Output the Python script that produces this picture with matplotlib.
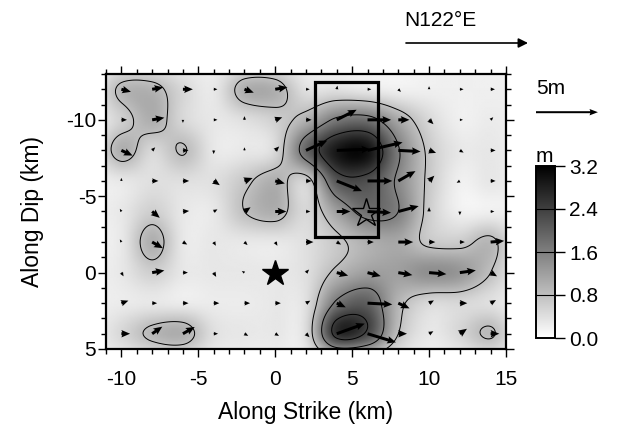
import numpy as np
import matplotlib
matplotlib.use('Agg')
import matplotlib.pyplot as plt
from matplotlib.patches import Rectangle

plt.rcParams['font.family'] = ['Liberation Sans', 'DejaVu Sans']
plt.rcParams['axes.unicode_minus'] = False

# sub-fault grid (km)
strike = [-10, -8, -6, -4, -2, 0, 2, 4, 6, 8, 10, 12, 14]
dip = [-12, -10, -8, -6, -4, -2, 0, 2, 4]

# slip amplitude for the shaded field (m), rows follow dip
slip = np.array([
  [0.9, 0.95, 0.5, 0.3, 1.0, 1.0, 0.4, 0.4, 0.3, 0.2, 0.2, 0.2, 0.2],
  [0.6, 1.0, 0.5, 0.3, 0.4, 0.6, 1.0, 1.7, 1.8, 1.1, 0.5, 0.2, 0.25],
  [1.0, 0.5, 0.83, 0.3, 0.3, 0.5, 1.9, 2.9, 3.0, 1.65, 0.7, 0.3, 0.3],
  [0.3, 0.4, 0.4, 0.4, 0.7, 1.0, 0.6, 2.1, 2.2, 1.5, 0.7, 0.2, 0.3],
  [0.3, 0.6, 0.3, 0.3, 0.8, 1.0, 0.5, 1.2, 1.8, 1.6, 0.65, 0.2, 0.2],
  [0.3, 1.0, 0.3, 0.3, 0.3, 0.3, 0.4, 0.7, 1.0, 1.1, 0.7, 0.65, 0.9],
  [0.3, 0.6, 0.3, 0.3, 0.3, 0.3, 0.4, 0.9, 1.2, 1.2, 1.4, 1.3, 0.8],
  [0.25, 0.3, 0.25, 0.25, 0.25, 0.3, 0.4, 1.7, 2.0, 0.95, 0.5, 0.5, 0.4],
  [0.5, 0.9, 1.0, 0.4, 0.3, 0.3, 0.45, 2.6, 2.3, 0.8, 0.3, 0.5, 0.85],
])
background = 0.2  # slip assumed just outside the fault

# slip vectors: length (m) and direction (deg, counter-clockwise from strike, as seen)
vec_len = np.array([
  [0.8, 0.9, 0.8, 0.3, 0.8, 1.0, 0.3, 0.3, 0.3, 0.3, 0.25, 0.3, 0.35],
  [0.45, 1.0, 0.25, 0.3, 0.3, 0.6, 0.45, 1.8, 1.9, 0.9, 0.5, 0.25, 0.3],
  [1.0, 0.35, 0.45, 0.3, 0.25, 0.45, 1.9, 2.7, 2.9, 1.8, 0.6, 0.35, 0.4],
  [0.25, 0.5, 0.5, 0.6, 0.7, 0.8, 0.45, 2.2, 2.0, 1.6, 0.6, 0.3, 0.4],
  [0.25, 0.8, 0.5, 0.35, 0.6, 0.9, 0.35, 1.1, 1.9, 1.7, 0.35, 0.3, 0.3],
  [0.25, 1.0, 0.4, 0.35, 0.35, 0.35, 0.6, 0.4, 0.5, 1.2, 0.5, 0.4, 1.1],
  [0.35, 1.0, 0.4, 0.4, 0.25, 0.1, 0.35, 0.95, 1.1, 1.15, 1.4, 1.3, 0.6],
  [0.6, 0.4, 0.45, 0.45, 0.45, 0.45, 0.4, 0.8, 2.0, 1.0, 0.45, 0.6, 0.5],
  [0.7, 1.0, 1.1, 0.35, 0.35, 0.35, 0.4, 2.4, 2.4, 0.7, 0.4, 0.7, 0.7],
])
vec_ang = np.array([
  [-15, 10, 0, 0, -20, 10, 0, 80, 0, -45, 90, 0, 0],
  [0, 10, -90, 0, 90, 20, 0, 27, 0, 0, -45, 0, 45],
  [-25, 45, 0, -90, 90, 45, 25, 2, 13, -3, -20, -30, 0],
  [90, 0, 0, -35, 20, -15, 0, -22, 0, 30, 45, -150, 0],
  [120, -40, 5, 30, 35, 0, 0, 0, -3, 15, 90, -90, 0],
  [120, -30, -30, -60, -45, -60, 0, -30, 0, 0, 0, 0, 5],
  [-60, 10, 0, -60, 150, 0, 45, -15, -15, -10, -5, 8, -30],
  [20, 0, 0, 0, 0, 0, 30, -25, -3, -25, 30, 0, 30],
  [0, 35, 30, 0, -30, -30, -45, 20, -17, 0, 30, 35, 0],
])

hypo = (0, 0)
epi2 = (5.9, -3.9)
box = (2.6, -12.5, 6.67, -2.33)  # x0, y0, x1, y1
cbar_ticks = [0.0, 0.8, 1.6, 2.4, 3.2]
levels = [0.8, 1.6, 2.4]

km_per_m = 0.805  # vector scale


def cubic(vals, t, axis):
  n = vals.shape[axis]
  t = np.clip(t, 0, n - 1)
  i = np.minimum(np.floor(t).astype(int), n - 2)
  f = t - i
  if axis == 0:
    f = f[:, None]
  p0 = np.take(vals, np.clip(i - 1, 0, n - 1), axis=axis)
  p1 = np.take(vals, i, axis=axis)
  p2 = np.take(vals, i + 1, axis=axis)
  p3 = np.take(vals, np.clip(i + 2, 0, n - 1), axis=axis)
  return 0.5 * (2 * p1 + (-p0 + p2) * f + (2 * p0 - 5 * p1 + 4 * p2 - p3) * f ** 2
                + (-p0 + 3 * p1 - 3 * p2 + p3) * f ** 3)


padded = np.pad(slip, 1, constant_values=background)
xf = np.linspace(-11, 15, 261)
yf = np.linspace(-13, 5, 181)
tx = (xf - (strike[0] - 2)) / 2.0
ty = (yf - (dip[0] - 2)) / 2.0
field = cubic(cubic(padded, tx, 1), ty, 0)
field = np.clip(field, 0, None)

fig = plt.figure(figsize=(6.19, 4.30), dpi=100)
ax = fig.add_axes([106 / 619, 81 / 430, 400 / 619, 275 / 430])

im = ax.imshow(field, extent=(-11, 15, 5, -13), cmap='gray_r', vmin=0, vmax=3.2,
               interpolation='bilinear', aspect='auto')
XF, YF = np.meshgrid(xf, yf)
ax.contour(XF, YF, field, levels=levels, colors='k', linewidths=0.7)

X, Y = np.meshgrid(strike, dip)
rad = np.radians(vec_ang)
U = vec_len * np.cos(rad)
V = -vec_len * np.sin(rad)
qopts = dict(angles='xy', scale_units='xy', scale=1 / km_per_m, pivot='tail',
             width=0.0075, headwidth=2.5, headlength=2.9, headaxislength=2.6,
             color='k', zorder=4)
ax.quiver(X, Y, U, V, **qopts)

ax.add_patch(Rectangle((box[0], box[1]), box[2] - box[0], box[3] - box[1],
                       fill=False, ec='k', lw=2.3, zorder=5))
ax.plot(*hypo, marker='*', ms=19, color='k', zorder=6)
ax.plot(*epi2, marker='*', ms=21, mfc='none', mec='k', mew=1.0, zorder=6)

ax.set_xlim(-11, 15)
ax.set_ylim(5, -13)
ax.set_xticks([-10, -5, 0, 5, 10, 15])
ax.set_yticks([-10, -5, 0, 5])
ax.set_xticks(np.arange(-11, 16, 1), minor=True)
ax.set_yticks(np.arange(-13, 6, 1), minor=True)
ax.tick_params(which='both', direction='out', top=True, right=True, width=1.0,
               labelsize=15)
ax.tick_params(which='major', length=6)
ax.tick_params(which='minor', length=3.5)
ax.tick_params(axis='x', which='major', pad=9)
ax.tick_params(axis='y', which='major', pad=1)
for s in ax.spines.values():
  s.set_linewidth(1.6)
ax.set_xlabel('Along Strike (km)', fontsize=16.5, labelpad=9)
ax.set_ylabel('Along Dip (km)', fontsize=16.5, labelpad=16)

# 5 m reference vector
leg = dict(qopts, width=0.005, headwidth=3.2, headlength=4.2, headaxislength=3.8)
ax.quiver([16.95], [-10.5], [5.0], [0.0], clip_on=False, **leg)
ax.text(16.95, -11.4, '5m', fontsize=15, ha='left', va='bottom', clip_on=False)

# strike direction
fig.text(440 / 619, 1 - 20 / 430, 'N122\u00b0E', fontsize=15, ha='center', va='center')
ax.annotate('', xy=(528 / 619, 1 - 43 / 430), xytext=(406 / 619, 1 - 43 / 430),
            xycoords='figure fraction', textcoords='figure fraction',
            arrowprops=dict(arrowstyle='-|>', color='k', lw=1.2, mutation_scale=14,
                            shrinkA=0, shrinkB=0))

cax = fig.add_axes([536 / 619, 92 / 430, 19 / 619, 172 / 430])
cb = fig.colorbar(im, cax=cax, ticks=cbar_ticks)
cb.ax.set_yticklabels(['%.1f' % t for t in cbar_ticks])
cb.ax.tick_params(direction='out', length=7, width=1.0, labelsize=15, pad=3)
cb.outline.set_linewidth(1.4)
for lv in levels:
  cb.ax.axhline(lv, color='k', lw=0.8)
cb.ax.set_title('m', fontsize=15, loc='left', pad=2)

fig.savefig('out.png', dpi=100)
